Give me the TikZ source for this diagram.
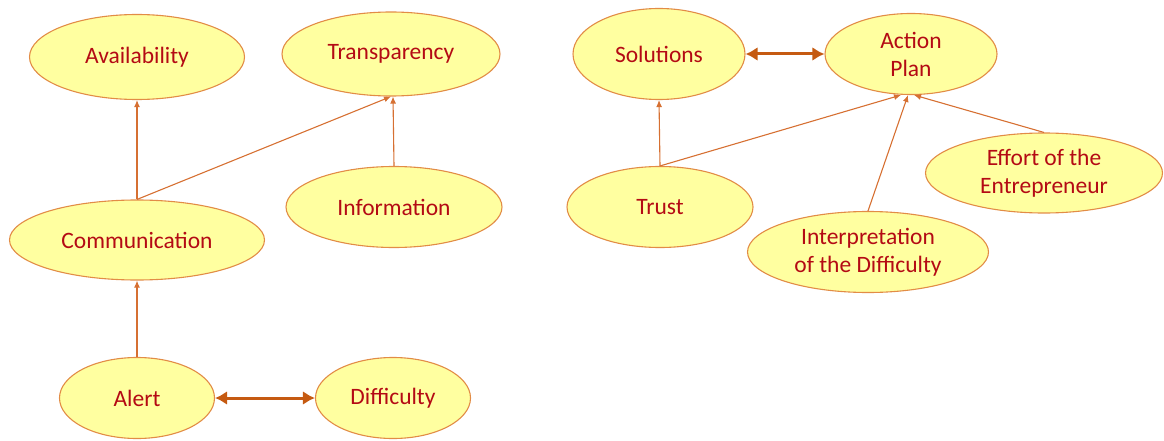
\documentclass[tikz,border=0pt]{standalone}
\usepackage{fontspec}
\setmainfont{Carlito}
\usepackage{xcolor}
\definecolor{FILLCOLOR}{RGB}{255,255,160}
\definecolor{EDGECOLOR}{RGB}{226,140,70}
\definecolor{TEXTCOLOR}{RGB}{180,10,20}
\definecolor{LINKCOLOR}{RGB}{214,112,50}
\definecolor{BONDCOLOR}{RGB}{197,90,17}
\usetikzlibrary{shapes.geometric,arrows.meta,positioning}
\tikzset{
  concept-style/.style = {
    ellipse, draw=EDGECOLOR, line width=1.1pt,
    fill=FILLCOLOR,
    text=TEXTCOLOR,
    font=\fontsize{23.5}{28}\selectfont,
    align=center,
    inner sep=0pt,
    minimum width=#1,
    minimum height=81pt
  },
  concept-style/.default = 155pt,
  link-style/.style = {
    draw=LINKCOLOR, line width=1.1pt,
    -{Latex[length=7pt,width=6pt]}
  },
  bond-style/.style = {
    draw=BONDCOLOR, line width=3pt,
    {Latex[length=12pt,width=14pt]}-{Latex[length=12pt,width=14pt]}
  }
}

\begin{document}
\begin{tikzpicture}[x=1pt,y=-1pt]
    \useasboundingbox (0,0) rectangle (1164,441);

    %%% left group
    \node[concept-style=215pt,minimum height=85pt] (avail) at (137,57) {Availability};
    \node[concept-style=218pt,minimum height=84pt] (transp) at (391,54) {Transparency};
    \node[concept-style=216pt] (info) at (394,207) {Information};
    \node[concept-style=255pt,minimum height=80pt] (comm) at (137,240) {Communication};
    \node[concept-style] (alert) at (137,398) {Alert};
    \node[concept-style] (diff) at (393,398) {Difficulty};

    %%% right group
    \node[concept-style=172pt,minimum height=91pt] (sol) at (659,54) {Solutions};
    \node[concept-style=172pt] (plan) at (911,54) {Action\\Plan};
    \node[concept-style=186pt] (trust) at (660,207) {Trust};
    \node[concept-style=241pt] (interp) at (868,252) {Interpretation\\of the Difficulty};
    \node[concept-style=237pt,minimum height=80pt] (effort) at (1044,173) {Effort of the\\Entrepreneur};

    %%% arrows
    \path[link-style] (comm.north) -- (avail.south);
    \path[link-style] (comm.north) -- (transp.south);
    \path[link-style] (info.north) -- ([xshift=2pt]transp.south);
    \path[link-style] (alert.north) -- (comm.south);
    \path[bond-style] (alert.east) -- (diff.west);

    \path[link-style] (trust.north) -- (sol.south);
    \path[link-style] (trust.north) -- ([xshift=-10pt]plan.south);
    \path[link-style] (interp.north) -- ([xshift=-3pt]plan.south);
    \path[link-style] (effort.north) -- ([xshift=3pt]plan.south);
    \path[bond-style] (sol.east) -- (plan.west);
\end{tikzpicture}
\end{document}
